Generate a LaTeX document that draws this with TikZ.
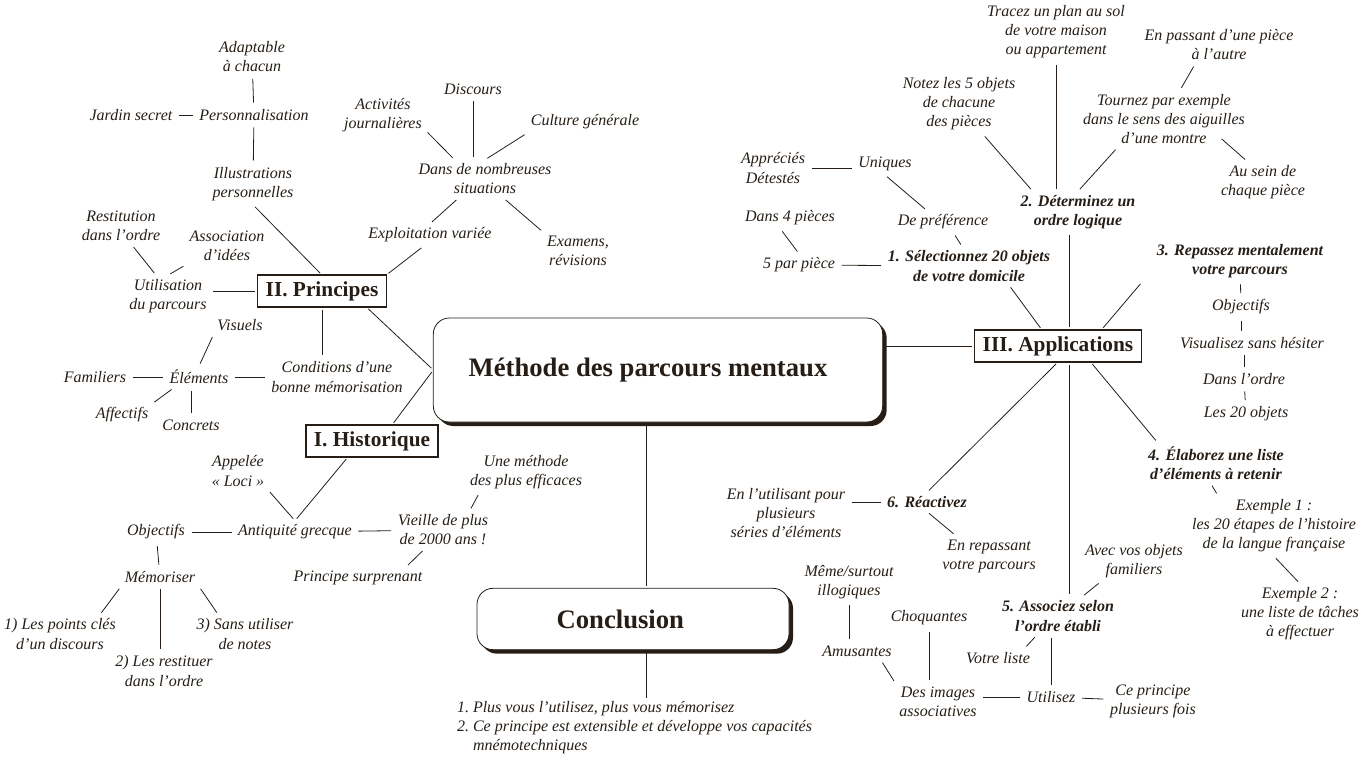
\documentclass[tikz,border=0pt]{standalone}
\usepackage{fontspec}
\setmainfont{Liberation Serif}
\usetikzlibrary{shadows}
\definecolor{ink}{RGB}{38,30,22}

\begin{document}
\begin{tikzpicture}[x=0.75pt, y=-0.75pt, color=ink,
    font=\fontsize{12}{14.3}\selectfont\itshape,
    every node/.style={align=center, inner sep=1pt, outer sep=2pt},
    idea/.style={font=\fontsize{12}{14.3}\selectfont\bfseries\itshape},
    part/.style={draw, line width=1pt, fill=white, inner xsep=6pt, outer sep=0pt,
        minimum height=24pt, font=\fontsize{16}{18}\selectfont\bfseries\upshape},
    hub/.style={draw, line width=0.6pt, rounded corners=12pt, fill=white, outer sep=0pt,
        font=\fontsize{20}{22}\selectfont\bfseries\upshape,
        drop shadow={shadow xshift=3pt, shadow yshift=-3pt, opacity=1, fill=ink}},
    link/.style={line width=0.6pt, shorten <=2pt, shorten >=2pt}]

    \useasboundingbox (0,0) rectangle (1365,764);
    \coordinate (cx) at (646,0);
    \coordinate (axe) at (1069,0);

    % Main boxes
    \node[hub, minimum width=337pt, minimum height=78pt] (methode) at (658,370) {Méthode des parcours mentaux\hspace*{15pt}};
    \node[hub, minimum width=234pt, minimum height=46pt] (concl) at (633,619) {Conclusion\hspace*{19pt}};
    \node[part] (princ) at (322,291) {II. Principes};
    \node[part] (hist) at (372,441) {I. Historique};
    \node[part] (appli) at (1058,346) {III. Applications};

    % Principes
    \node (adapt) at (252,57) {Adaptable\\à chacun};
    \node (perso) at (254,115) {Personnalisation};
    \node (jardin) at (131,115) {Jardin secret};
    \node (illus) at (253,184) {Illustrations\\personnelles};
    \node (restit) at (121,226) {Restitution\\dans l’ordre};
    \node (assoc) at (227,246) {Association\\d’idées};
    \node (utili) at (168,296) {Utilisation\\du parcours};
    \node (activ) at (383,115) {Activités\\journalières};
    \node (disc) at (473,89) {Discours};
    \node (cult) at (585,122) {Culture générale};
    \node (dans) at (485,179) {Dans de nombreuses\\situations};
    \node (exploit) at (430,235) {Exploitation variée};
    \node (exam) at (578,251) {Examens,\\révisions};
    \node (visu) at (240,325) {Visuels};
    \node (elem) at (199,377) {Éléments};
    \node (famil) at (95,377) {Familiers};
    \node (cond) at (337,377) {Conditions d’une\\bonne mémorisation};
    \node (affec) at (122,415) {Affectifs};
    \node (concr) at (191,425) {Concrets};

    % Historique
    \node (appel) at (238,471) {Appelée\\«~Loci~»};
    \node (antiq) at (295,532) {Antiquité grecque};
    \node (objh) at (156,532) {Objectifs};
    \node (vieille) at (443,530) {Vieille de plus\\de 2000 ans !};
    \node (unemeth) at (526,472) {Une méthode\\des plus efficaces};
    \node (surpr) at (358,578) {Principe surprenant};
    \node (memo) at (160,577) {Mémoriser};
    \node (pts) at (60,634) {1) Les points clés\\d’un discours};
    \node (restu) at (164,671) {2) Les restituer\\dans l’ordre};
    \node (sans) at (245,634) {3) Sans utiliser\\de notes};

    % Conclusion
    \node[anchor=north west, align=left, inner sep=0pt, outer sep=0pt] (bilan) at (457,701)
        {1.~Plus vous l’utilisez, plus vous mémorisez\\2.~Ce principe est extensible et développe vos capacités\\\phantom{2.~}mnémotechniques};

    % Applications
    \node (trace) at (1056,32) {Tracez un plan au sol\\de votre maison\\ou appartement};
    \node (passant) at (1219,45) {En passant d’une pièce\\à l’autre};
    \node (tourn) at (1164,119) {Tournez par exemple\\dans le sens des aiguilles\\d’une montre};
    \node (ausein) at (1263,182) {Au sein de\\chaque pièce};
    \node (notez) at (959,104) {Notez les 5 objets\\de chacune\\des pièces};
    \node[idea] (deter) at (1078,212) {2. Déterminez un\\ordre logique};
    \node (appre) at (773,168) {Appréciés\\Détestés};
    \node (uniq) at (885,164) {Uniques};
    \node (prefe) at (943,222) {De préférence};
    \node (dans4) at (790,218) {Dans 4 pièces};
    \node (cinq) at (799,265) {5 par pièce};
    \node[idea] (select) at (969,266) {1. Sélectionnez 20 objets\\de votre domicile};
    \node[idea] (repas) at (1240,261) {3. Repassez mentalement\\votre parcours};
    \node (objr) at (1241,307) {Objectifs};
    \node (visua) at (1252,343) {Visualisez sans hésiter};
    \node (ordre) at (1244,379) {Dans l’ordre};
    \node (vingt) at (1246,414) {Les 20 objets};
    \node[idea] (elab) at (1216,463) {4. Élaborez une liste\\d’éléments à retenir};
    \node (ex1) at (1274,526) {Exemple 1 :\\les 20 étapes de l’histoire\\de la langue française};
    \node (ex2) at (1300,614) {Exemple 2 :\\une liste de tâches\\à effectuer};
    \node[idea] (react) at (927,502) {6. Réactivez};
    \node (utilpl) at (786,513) {En l’utilisant pour\\plusieurs\\séries d’éléments};
    \node (repass) at (989,556) {En repassant\\votre parcours};
    \node (avec) at (1134,561) {Avec vos objets\\familiers};
    \node[idea] (assocs) at (1058,616) {5. Associez selon\\l’ordre établi};
    \node (votre) at (998,658) {Votre liste};
    \node (utilisez) at (1051,697) {Utilisez};
    \node (ceprin) at (1153,701) {Ce principe\\plusieurs fois};
    \node (images) at (938,702) {Des images\\associatives};
    \node (choq) at (929,618) {Choquantes};
    \node (amus) at (857,651) {Amusantes};
    \node (meme) at (849,582) {Même/surtout\\illogiques};

    % Lines round the centre
    \draw[link] (methode.south -| cx) -- (concl.north -| cx);
    \draw[link] (concl.south -| cx) -- (bilan.north -| cx);
    \draw[link] (methode.east |- appli.west) -- (appli.west);
    \draw[link] ([xshift=-15pt]princ.south east) -- (methode.west);
    \draw[link] ([xshift=15pt]hist.north) -- (methode.west);

    % Lines of Principes
    \draw[link] (adapt) -- (perso);
    \draw[link] (jardin) -- (perso);
    \draw[link] (perso) -- (illus);
    \draw[link] (illus.south) -- (princ.north);
    \draw[link] (restit.-60) -- (utili.120);
    \draw[link] (assoc.south west) -- (utili.north);
    \draw[link] (utili.east |- princ.west) -- (princ.west);
    \draw[link] (exploit.-120) -- (princ.north east);
    \draw[link] (activ.-20) -- ([xshift=30pt]dans.north west);
    \draw[link] (disc) -- (disc |- dans.north);
    \draw[link] (cult.south west) -- (dans.north);
    \draw[link] ([xshift=-20pt]dans.south) -- (exploit.north);
    \draw[link] ([xshift=14pt]dans.south) -- (exam.north west);
    \draw[link] (princ.south) -- (princ.south |- cond.north);
    \draw[link] (visu.south west) -- (elem.north);
    \draw[link] (famil) -- (elem);
    \draw[link] (elem) -- (cond);
    \draw[link] ([xshift=6pt]elem.south west) -- (affec.north east);
    \draw[link] (concr.north |- elem.south) -- (concr.north);

    % Lines of Historique
    \draw[link] ([xshift=-18pt]hist.south) -- (antiq.north);
    \draw[link] (appel.south east) -- (antiq.north);
    \draw[link] (objh) -- (antiq);
    \draw[link] (antiq) -- (vieille);
    \draw[link] ([xshift=20pt]vieille.north) -- ([xshift=-35pt]unemeth.south);
    \draw[link] ([xshift=-14pt]vieille.south) -- ([xshift=36pt]surpr.north);
    \draw[link] (objh) -- (memo);
    \draw[link] (memo.south west) -- ([xshift=-15pt]pts.north east);
    \draw[link] (memo.south) -- (memo.south |- restu.north);
    \draw[link] (memo.south east) -- ([xshift=-20pt]sans.north);

    % Lines of Applications
    \draw[link] (trace.south) -- (trace.south |- deter.north);
    \draw[link] ([xshift=-18pt]passant.south) -- ([xshift=12pt]tourn.north);
    \draw[link] ([xshift=-35pt]tourn.south) -- (deter.north);
    \draw[link] ([xshift=-22pt,yshift=8pt]tourn.south east) -- ([xshift=-12pt]ausein.north);
    \draw[link] ([xshift=18pt]notez.south) -- ([xshift=12pt]deter.north west);
    \draw[link] (appre.east) -- (appre.east -| uniq.west);
    \draw[link] (uniq.south) -- ([xshift=-12pt]prefe.north);
    \draw[link] ([xshift=8pt]prefe.south) -- ([xshift=-5pt]select.north);
    \draw[link] ([xshift=-7pt]dans4.south) -- (cinq.north);
    \draw[link] (cinq) -- (select);
    \draw[link] ([xshift=30pt]select.south) -- ([xshift=-12pt]appli.north);
    \draw[link] (deter.south -| axe) -- (appli.north -| axe);
    \draw[link] ([xshift=-8pt]repas.south west) -- ([xshift=-30pt]appli.north east);
    \draw[link] (repas) -- (objr);
    \draw[link] (objr) -- (objr |- visua.north);
    \draw[link] (visua.south -| ordre) -- (ordre);
    \draw[link] (ordre) -- (vingt);
    \draw[link] ([xshift=-38pt]appli.south east) -- ([xshift=10pt]elab.north west);
    \draw[link] ([xshift=-4pt]elab.south) -- ([xshift=-42pt]ex1.north);
    \draw[link] (ex1.south) -- (ex2.north);
    \draw[link] (appli.south) -- (react.north);
    \draw[link] (react.west -| utilpl.east) -- (react.west);
    \draw[link] (react.south) -- ([xshift=-25pt]repass.north);
    \draw[link] (appli.south -| axe) -- (assocs.north -| axe);
    \draw[link] ([xshift=-25pt]avec.south) -- ([xshift=18pt]assocs.north);
    \draw[link] ([xshift=-16pt]assocs.south) -- ([xshift=20pt]votre.north);
    \draw[link] (assocs.south -| utilisez) -- (utilisez);
    \draw[link] (images.east |- utilisez.west) -- (utilisez.west);
    \draw[link] (utilisez) -- (ceprin);
    \draw[link] (choq) -- (choq |- images.north);
    \draw[link] (images.north west) -- ([xshift=18pt]amus.south);
    \draw[link] (meme) -- (meme |- amus.north);
\end{tikzpicture}
\end{document}
